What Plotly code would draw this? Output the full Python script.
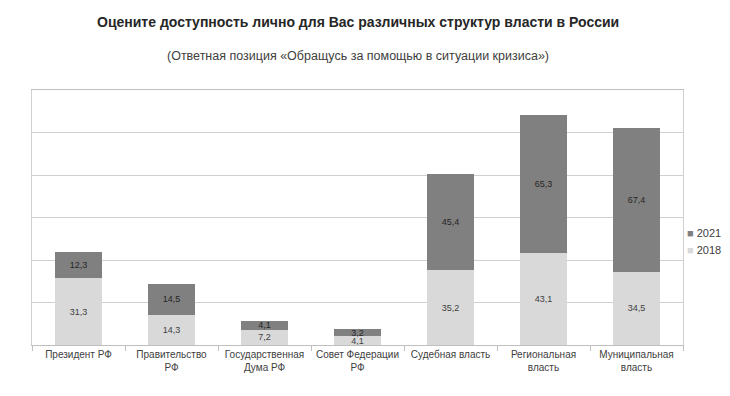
import plotly.graph_objects as go

categories = ["Президент РФ", "Правительство<br>РФ", "Государственная<br>Дума РФ",
              "Совет Федерации<br>РФ", "Судебная власть", "Региональная<br>власть",
              "Муниципальная<br>власть"]
values_2018 = [31.3, 14.3, 7.2, 4.1, 35.2, 43.1, 34.5]
values_2021 = [12.3, 14.5, 4.1, 3.2, 45.4, 65.3, 67.4]
series_names = ["2018", "2021"]
series_colors = ["#d9d9d9", "#808080"]

FONT = "Liberation Sans Narrow, Arial Narrow, Liberation Sans, Arial, sans-serif"

fig = go.Figure()
for name, vals, col, tcol in zip(series_names, [values_2018, values_2021], series_colors,
                                 ["#404040", "#262626"]):
    fig.add_trace(go.Bar(
        x=categories, y=vals, name=name,
        marker=dict(color=col, line=dict(width=0)),
        texttemplate="%{y:.1f}", textposition="inside", insidetextanchor="middle",
        textfont=dict(size=9, color=tcol, family=FONT),
    ))

# body has 8px default margin -> figure is 714x380 placed at (8,8)
fig.update_layout(
    width=714, height=380,
    barmode="stack", bargap=0.5,
    separators=", ",
    paper_bgcolor="white", plot_bgcolor="white",
    margin=dict(l=24, r=39, t=82, b=43, autoexpand=False),
    font=dict(family=FONT, color="#404040", size=10),
    uniformtext=dict(minsize=9, mode="show"),
    showlegend=False,
)
fig.add_annotation(text="<b>Оцените доступность лично для Вас различных структур власти в России</b>",
                   xref="paper", yref="paper", x=0.5, y=1, yshift=68, showarrow=False,
                   xanchor="center", yanchor="middle",
                   font=dict(size=14, color="#262626", family=FONT))
fig.add_annotation(text="(Ответная позиция «Обращусь за помощью в ситуации кризиса»)",
                   xref="paper", yref="paper", x=0.5, y=1, yshift=34, showarrow=False,
                   xanchor="center", yanchor="middle",
                   font=dict(size=12.5, color="#404040", family=FONT))
# legend (2021 above 2018)
for i, (name, col) in enumerate(zip(reversed(series_names), reversed(series_colors))):
    fig.add_annotation(
        text=f'<span style="color:{col}">■</span> {name}',
        xref="paper", yref="paper", x=1, xshift=2, y=0.47, yshift=-8 - 17 * i,
        showarrow=False, xanchor="left", yanchor="middle",
        font=dict(size=11, color="#404040", family=FONT))
fig.update_xaxes(showline=True, linecolor="#bfbfbf", linewidth=1, mirror=True,
                 ticks="outside", tickson="boundaries", ticklen=5, tickcolor="#bfbfbf",
                 tickangle=0, automargin=False,
                 tickfont=dict(size=10, color="#404040"), showgrid=False)
fig.update_yaxes(range=[0, 120], dtick=20, showticklabels=False, showgrid=True,
                 gridcolor="#d0d0d0", gridwidth=1, zeroline=False, automargin=False,
                 showline=True, linecolor="#d0d0d0", mirror=True, ticks="")

fig.write_html("out.html")
